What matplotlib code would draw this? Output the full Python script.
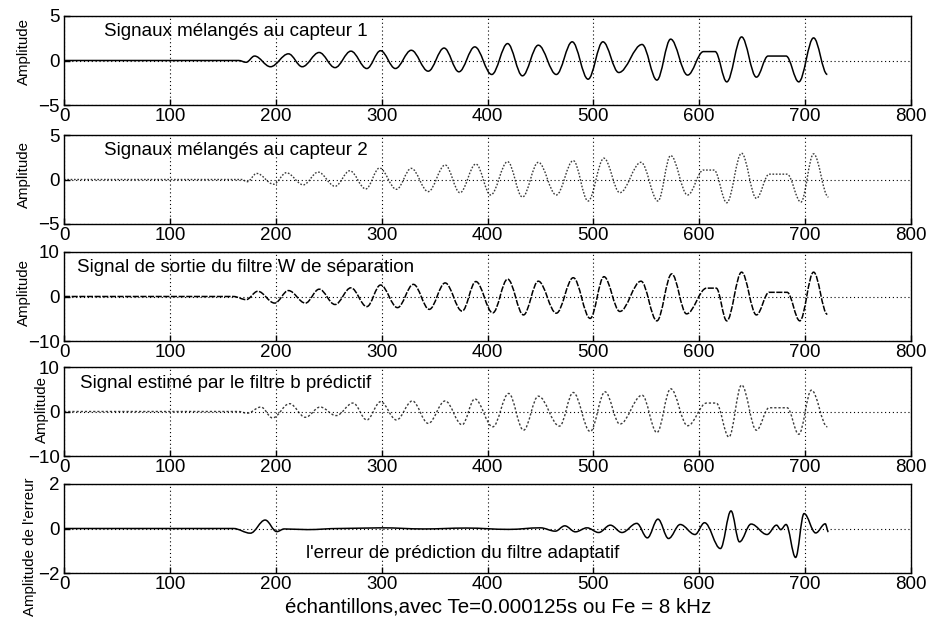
import matplotlib
matplotlib.use("Agg")
import matplotlib.pyplot as plt
from matplotlib.path import Path
from matplotlib.patches import PathPatch

plt.rcParams['font.family'] = ['Liberation Sans', 'DejaVu Sans']

# ---- data (extrema: sample index, amplitude) ----
s1_x = [0, 165, 172, 180, 195, 212, 225, 241, 256, 271, 286, 299, 313, 328, 344, 359, 373, 388, 404, 419,
        433, 448, 465, 480, 495, 509, 524, 546, 560, 573, 589, 604, 615, 626, 640, 654, 665, 682, 694, 708, 721]
s1_y = [0, 0, -0.2, 0.5, -0.7, 0.75, -0.7, 0.9, -0.8, 1.05, -0.9, 1.1, -0.9, 1.15, -1.2, 1.4, -1.27, 1.53, -1.57, 1.9,
        -1.72, 1.72, -1.57, 2.1, -2.1, 2.1, -1.35, 1.8, -2.2, 2.4, -1.64, 1.0, 1.0, -2.4, 2.65, -1.87, 0.5, 0.5, -2.4, 2.54, -1.57]

s2_x = [0, 168, 173, 182, 198, 210, 226, 240, 256, 270, 285, 298, 314, 328, 344, 360, 374, 389, 403, 419,
        433, 448, 465, 481, 495, 510, 525, 545, 561, 573, 589, 604, 614, 626, 640, 654, 666, 683, 696, 708, 722]
s2_y = [0, 0, -0.25, 0.68, -0.53, 0.76, -0.6, 0.83, -0.76, 0.98, -1.06, 1.29, -1.1, 1.25, -1.36, 1.63, -1.48, 1.74, -1.74, 2.0,
        -1.97, 1.93, -1.74, 2.12, -2.42, 2.39, -1.48, 1.93, -2.42, 2.69, -1.74, 1.06, 1.06, -2.61, 2.95, -2.12, 0.6, 0.6, -2.54, 2.88, -1.97]

s3_x = [0, 160, 172, 183, 199, 212, 228, 241, 256, 271, 286, 299, 315, 330, 345, 360, 376, 389, 405, 419,
        434, 448, 465, 481, 497, 510, 525, 545, 560, 574, 588, 607, 616, 626, 640, 654, 666, 683, 695, 708, 721]
s3_y = [0, 0, -0.7, 1.17, -1.48, 1.33, -1.48, 1.64, -1.8, 1.95, -2.27, 2.58, -2.5, 2.73, -2.89, 3.05, -3.28, 3.36, -3.67, 3.9,
        -4.14, 3.44, -3.75, 4.22, -4.92, 4.45, -3.36, 3.44, -5.47, 5.08, -3.9, 1.88, 1.88, -5.47, 5.47, -4.14, 0.94, 0.94, -5.47, 5.47, -4.0]

s4_x = [0, 165, 173, 186, 197, 213, 228, 242, 257, 273, 286, 299, 314, 329, 344, 360, 376, 388, 405, 420,
        434, 448, 468, 481, 497, 511, 525, 546, 560, 573, 589, 607, 616, 628, 640, 654, 666, 683, 694, 706, 721]
s4_y = [0, 0, -0.38, 1.0, -1.45, 1.76, -1.3, 1.0, -0.92, 1.9, -1.9, 2.2, -1.9, 2.37, -2.67, 2.37, -2.98, 2.82, -3.44, 4.05,
        -4.2, 3.44, -3.28, 4.27, -4.5, 4.43, -2.82, 3.66, -4.73, 5.11, -3.2, 1.9, 1.9, -5.73, 5.95, -4.2, 0.84, 0.84, -5.11, 4.8, -3.44]

s5_x = [0, 160, 176, 190, 201, 208, 230, 260, 300, 340, 380, 420, 450, 464, 473, 483, 494, 505, 516, 527,
        541, 551, 561, 571, 582, 596, 605, 620, 630, 638, 649, 664, 673, 677, 682, 691, 699, 710, 719, 722]
s5_y = [0, 0, -0.21, 0.38, -0.14, -0.02, -0.05, 0.0, 0.03, -0.02, 0.02, -0.04, 0.03, -0.12, 0.12, -0.15, 0.03, -0.18, 0.15, -0.18,
        0.23, -0.42, 0.42, -0.45, 0.18, -0.27, 0.26, -0.9, 0.79, -0.6, 0.2, -0.27, 0.15, -0.05, 0.18, -1.3, 0.67, -0.2, 0.21, -0.15]

titles = ["Signaux mélangés au capteur 1",
          "Signaux mélangés au capteur 2",
          "Signal de sortie du filtre W de séparation",
          "Signal estimé par le filtre b prédictif",
          "l'erreur de prédiction du filtre adaptatif"]
ylabels = ["Amplitude", "Amplitude", "Amplitude", "Amplitude", "Amplitude de l'erreur"]
ylims = [5, 5, 10, 10, 2]
xticks = [0, 100, 200, 300, 400, 500, 600, 700, 800]
xlabel = "échantillons,avec Te=0.000125s ou Fe = 8 kHz"

series = [(s1_x, s1_y), (s2_x, s2_y), (s3_x, s3_y), (s4_x, s4_y), (s5_x, s5_y)]
styles = [dict(color='black', lw=1.1, ls='-'),
          dict(color='#3a3a3a', lw=1.0, ls=(0, (1.2, 1.2))),
          dict(color='black', lw=1.1, ls=(0, (4, 1))),
          dict(color='#3a3a3a', lw=1.0, ls=(0, (1.6, 1.4))),
          dict(color='black', lw=1.1, ls='-')]
text_pos = [(38, 2.75), (38, 2.7), (12, 5.5), (15, 5.2), (229, -1.33)]
# ylabel placement (right edge in px from figure left, vertical fraction of axes)
ylab_pos = [(31, 0.6), (31, 0.56), (31, 0.55), (49, 0.52), (37, 0.30)]

W, H = 930, 617
fig = plt.figure(figsize=(W / 100, H / 100), dpi=100)
tops = [16, 135, 252, 367, 484]
axh = 89
left, right = 64, 911


def wave_path(xs, ys):
    verts = [(xs[0], ys[0])]
    codes = [Path.MOVETO]
    for i in range(len(xs) - 1):
        dx = xs[i + 1] - xs[i]
        verts += [(xs[i] + 0.364 * dx, ys[i]), (xs[i + 1] - 0.364 * dx, ys[i + 1]), (xs[i + 1], ys[i + 1])]
        codes += [Path.CURVE4] * 3
    return Path(verts, codes)


axes = []
for k in range(5):
    ax = fig.add_axes([left / W, 1 - (tops[k] + axh) / H, (right - left) / W, axh / H])
    axes.append(ax)
    xs, ys = series[k]
    st = styles[k]
    ax.add_patch(PathPatch(wave_path(xs, ys), facecolor='none', edgecolor=st['color'],
                           lw=st['lw'], linestyle=st['ls'], capstyle='butt'))
    L = ylims[k]
    ax.set_xlim(0, 800)
    ax.set_ylim(-L, L)
    ax.set_xticks(xticks)
    ax.set_yticks([-L, 0, L])
    ax.tick_params(direction='in', length=4, width=1, labelsize=13.5, pad=2, colors='black')
    ax.tick_params(axis='y', pad=3)
    for s in ax.spines.values():
        s.set_linewidth(1.0)
        s.set_color('black')
    ax.grid(True, linestyle=(0, (1, 2.5)), color='black', lw=0.8)
    tx, ty = text_pos[k]
    ax.text(tx, ty, titles[k], fontsize=13.5, va='baseline', ha='left')
    ax.set_ylabel(ylabels[k], fontsize=10.8)
    px, fy = ylab_pos[k]
    ax.yaxis.set_label_coords(-(left - px) / (right - left), fy)

axes[4].set_xlabel(xlabel, fontsize=14.8)
axes[4].xaxis.set_label_coords(0.513, -0.275)
axes[4].xaxis.label.set_va('top')

fig.savefig("out.png", dpi=100, facecolor='white')
